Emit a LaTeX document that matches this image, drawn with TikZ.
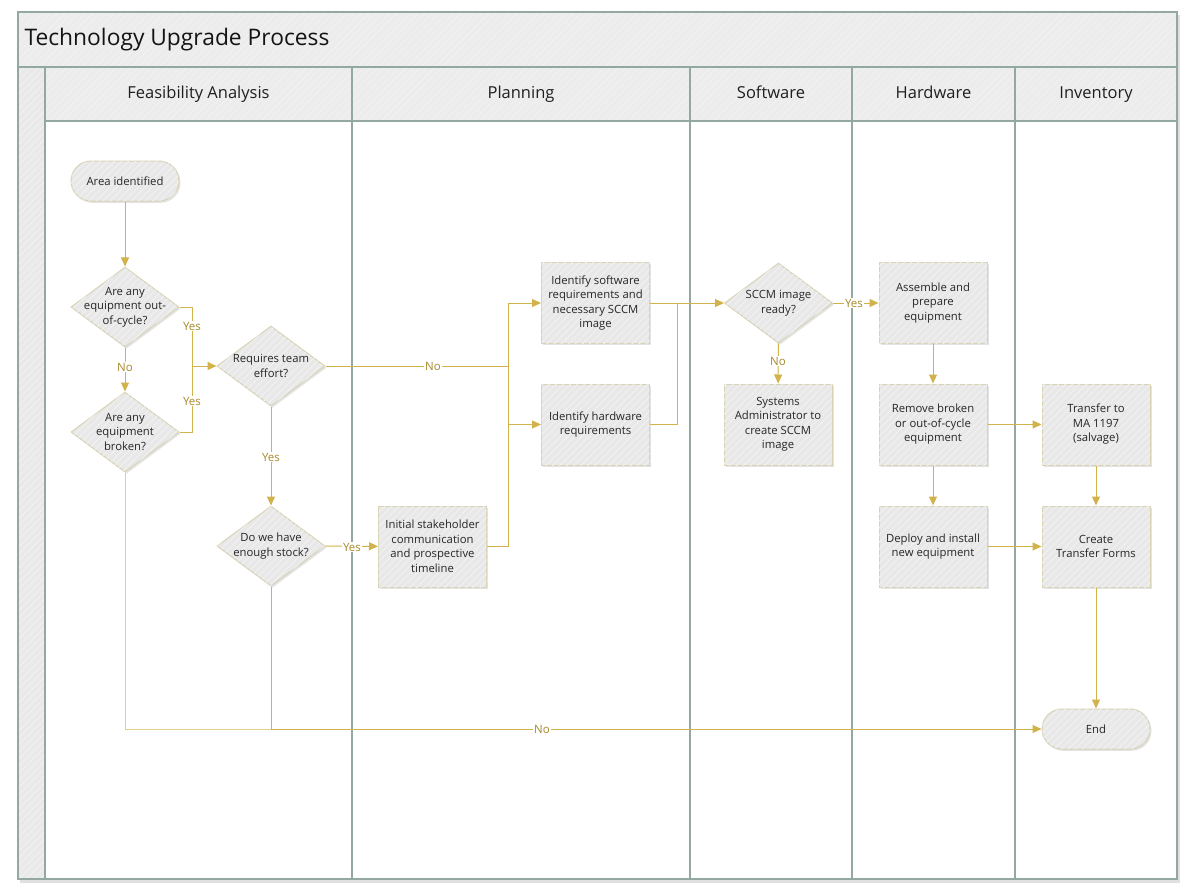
\documentclass[tikz,border=0pt]{standalone}
\usepackage{fontspec}
\setmainfont{Open Sans}
\usetikzlibrary{shapes.geometric,arrows.meta,shadows,patterns.meta}
\definecolor{conn}{HTML}{D2B24A}
\definecolor{lblc}{HTML}{A8892A}
\definecolor{nfill}{HTML}{E8E8E8}
\definecolor{nborder}{HTML}{D9D3B6}
\definecolor{lanec}{HTML}{93A8A2}
\definecolor{hfill}{HTML}{ECECEC}
\definecolor{stripec}{HTML}{F1F1F1}
\definecolor{leftc}{HTML}{E9E9E9}
\tikzset{
  hatch/.style={postaction={pattern={Lines[angle=45,distance=5pt,line width=1pt]},pattern color=stripec}},
  nodetext/.style={font=\fontsize{11.3}{14.5}\selectfont, text=black!85},
  shad/.style={drop shadow={opacity=0.22,shadow xshift=1.5pt,shadow yshift=-1.8pt}},
  procbox/.style={rectangle, draw=nborder, line width=1pt, fill=nfill, shad, hatch,
     minimum width=108pt, minimum height=81pt, inner sep=1pt, align=center, nodetext},
  term/.style={rectangle, rounded corners=20pt, draw=nborder, line width=1pt, fill=nfill, shad, hatch,
     minimum width=108pt, minimum height=40pt, align=center, nodetext},
  dec/.style={diamond, draw=nborder, line width=1pt, fill=nfill, shad, hatch,
     minimum width=108pt, minimum height=80pt, inner sep=0pt},
  dectext/.style={align=center, nodetext, inner sep=0pt},
  conn/.style={draw=conn, line width=1pt, -{Triangle[length=9pt,width=8pt]}},
  plain/.style={draw=conn, line width=1pt},
  lbl/.style={fill=white, inner sep=1pt, text=lblc, font=\fontsize{11.5}{13}\selectfont},
  lanehead/.style={anchor=base, font=\fontsize{16.5}{19}\selectfont, text=black!88},
  laneline/.style={draw=lanec, line width=1.2pt},
}
\begin{document}
\begin{tikzpicture}[x=1pt,y=-1pt]
\useasboundingbox (0,0) rectangle (1191,891);
\fill[white] (0,0) rectangle (1191,891);
% frame with shadow
\fill[black!12] (20,15) rectangle (1180,883);
\fill[white] (18,12) rectangle (1177,879);
% title band
\fill[hfill, hatch] (18,12) rectangle (1177,67);
\node[anchor=west, font=\fontsize{22.8}{26}\selectfont, text=black!92] (title) at (21,40) {Technology Upgrade Process};
% left strip
\fill[leftc, hatch] (18,67) rectangle (45,879);
% lane headers
\fill[hfill, hatch] (45,67) rectangle (1177,121);
\node[lanehead] (h1) at (198.5,99) {Feasibility Analysis};
\node[lanehead] (h2) at (521,99) {Planning};
\node[lanehead] (h3) at (771,99) {Software};
\node[lanehead] (h4) at (933.5,99) {Hardware};
\node[lanehead] (h5) at (1096,99) {Inventory};
% lane lines
\draw[laneline] (18,12) rectangle (1177,879);
\draw[laneline] (18,67) -- (1177,67);
\draw[laneline] (45,121) -- (1177,121);
\foreach \x in {45,352,690,852,1015} {\draw[laneline] (\x,67) -- (\x,879);}

% nodes
\node[term] (area) at (125,181) {Area identified};
\node[dec] (d1) at (125,307) {};
\node[dectext] (d1t) at (d1) {Are any\\equipment out-\\of-cycle?};
\node[dec] (d2) at (125,432) {};
\node[dectext] (d2t) at (d2) {Are any\\equipment\\broken?};
\node[dec] (d3) at (271,366) {};
\node[dectext] (d3t) at (d3) {Requires team\\effort?};
\node[dec] (d4) at (271,546) {};
\node[dectext] (d4t) at (d4) {Do we have\\enough stock?};
\node[procbox] (init) at (432.5,546.5) {Initial stakeholder\\communication\\and prospective\\timeline};
\node[procbox] (sw) at (595.5,303) {Identify software\\requirements and\\necessary SCCM\\image};
\node[procbox] (hw) at (595.5,424.5) {Identify hardware\\requirements};
\node[dec] (sccm) at (778.5,303) {};
\node[dectext] (sccmt) at (sccm) {SCCM image\\ready?};
\node[procbox] (sys) at (778,424.5) {Systems\\Administrator to\\create SCCM\\image};
\node[procbox] (asm) at (933,303) {Assemble and\\prepare\\equipment};
\node[procbox] (rem) at (933,424.5) {Remove broken\\or out-of-cycle\\equipment};
\node[procbox] (dep) at (933,546.5) {Deploy and install\\new equipment};
\node[procbox] (tr) at (1096,424.5) {Transfer to\\MA 1197\\(salvage)};
\node[procbox] (ctf) at (1096,546.5) {Create\\Transfer Forms};
\node[term] (end) at (1096,729) {End};

% junction coordinates
\coordinate (jy) at (192,366);
\coordinate (jn) at (508,366);
\coordinate (js) at (677,303);
\coordinate (jb) at (271,729);

% connectors
\draw[conn] (area) -- (d1);
\draw[conn] (d1) -- (d2);
\node[lbl] (l1) at (125,367) {No};
\draw[conn] (d1.east) -| (jy) -- (d3.west);
\draw[plain] (d2.east) -| (jy);
\node[lbl] (l2) at (192,326) {Yes};
\node[lbl] (l3) at (192,401) {Yes};
\draw[plain] (d3.east) -- (jn);
\node[lbl] (l4) at (433,366) {No};
\draw[conn] (jn) |- (sw.west);
\draw[conn] (jn) |- (hw.west);
\draw[plain] (init.east) -| (jn);
\draw[conn] (d3) -- (d4);
\node[lbl] (l5) at (271,457) {Yes};
\draw[conn] (d4) -- (init);
\node[lbl] (l6) at (352,547) {Yes};
\draw[conn] (sw.east) -- (sccm.west);
\draw[plain] (hw.east) -| (js);
\draw[conn] (sccm) -- (asm);
\node[lbl] (l7) at (854,303) {Yes};
\draw[conn] (sccm) -- (sys);
\node[lbl] (l8) at (778,361) {No};
\draw[conn] (asm) -- (rem);
\draw[conn] (rem) -- (dep);
\draw[conn] (rem) -- (tr);
\draw[conn] (dep) -- (ctf);
\draw[conn] (tr) -- (ctf);
\draw[conn] (ctf) -- (end);
\draw[draw=conn!65, line width=1pt] (d2.south) |- (jb);
\draw[conn] (d4.south) |- (end.west);
\node[lbl] (l9) at (542,729) {No};
\end{tikzpicture}
\end{document}
